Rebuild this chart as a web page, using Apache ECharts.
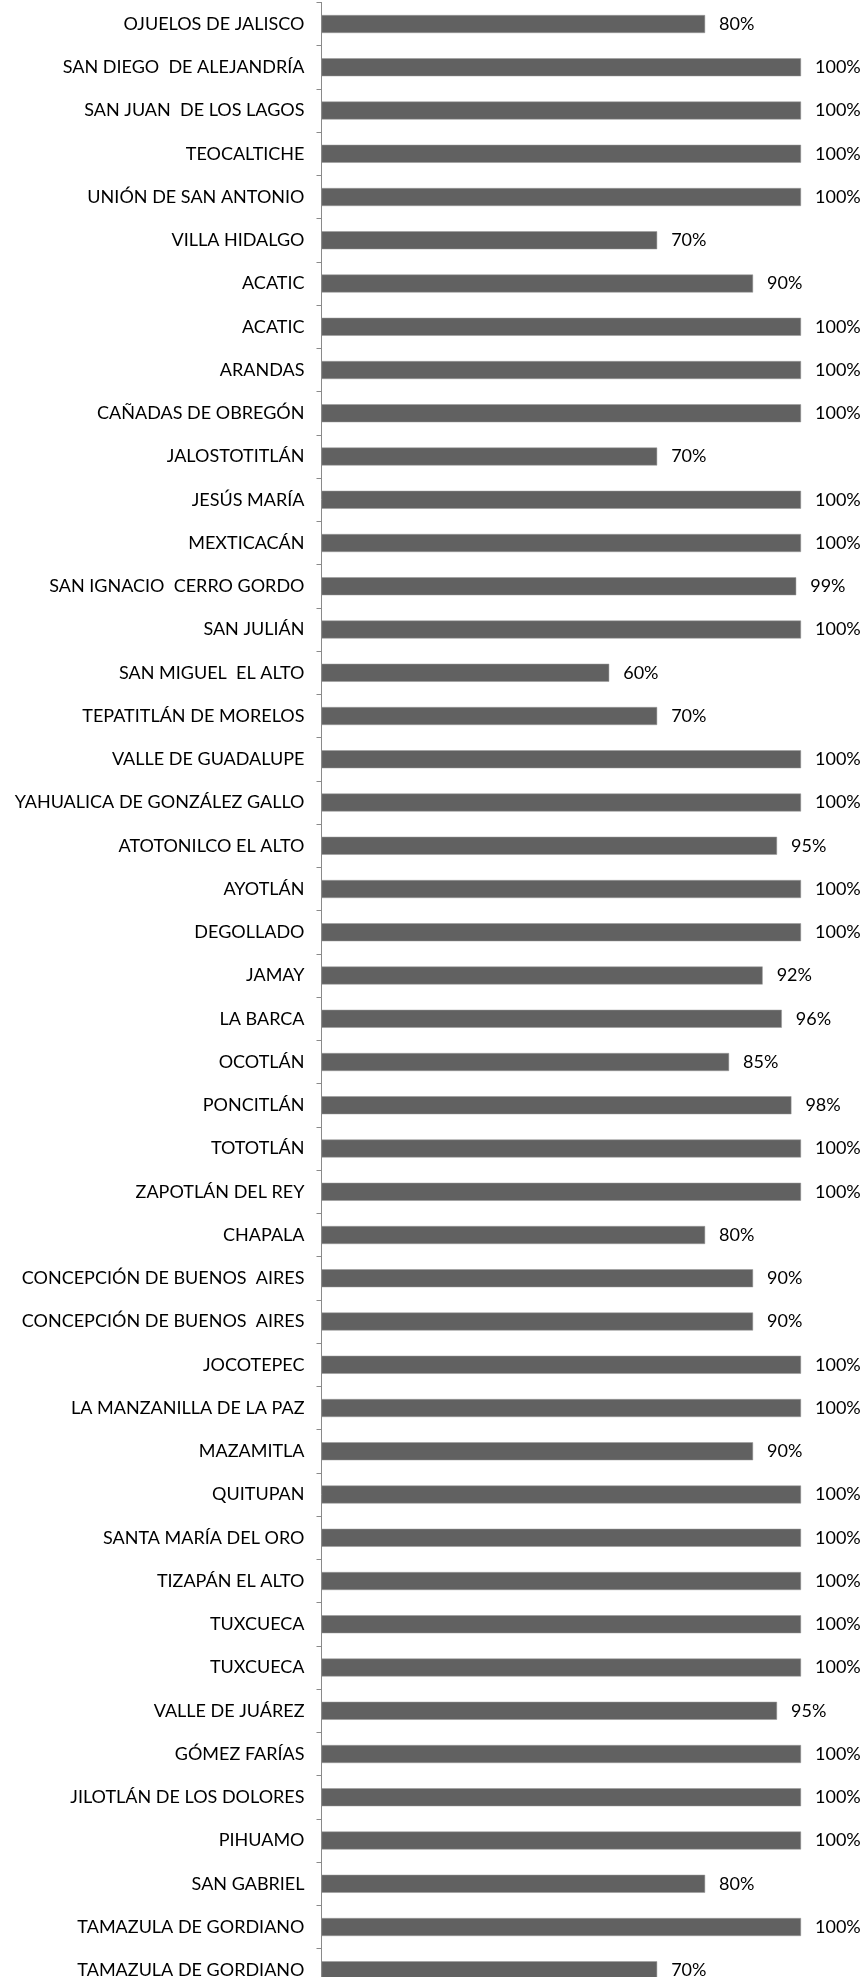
<!DOCTYPE html>
<html>
<head>
<meta charset="utf-8">
<script src="https://cdn.jsdelivr.net/npm/echarts@6/dist/echarts.min.js"></script>
<style>
html,body{margin:0;padding:0;background:#fff;overflow:hidden;width:867px;height:1977px;}
#chart{width:867px;height:1995px;}
</style>
</head>
<body>
<div id="chart"></div>
<script>
var categories = [
  "OJUELOS DE JALISCO","SAN DIEGO  DE ALEJANDRÍA","SAN JUAN  DE LOS LAGOS","TEOCALTICHE","UNIÓN DE SAN ANTONIO",
  "VILLA HIDALGO","ACATIC","ACATIC","ARANDAS","CAÑADAS DE OBREGÓN",
  "JALOSTOTITLÁN","JESÚS MARÍA","MEXTICACÁN","SAN IGNACIO  CERRO GORDO","SAN JULIÁN",
  "SAN MIGUEL  EL ALTO","TEPATITLÁN DE MORELOS","VALLE DE GUADALUPE","YAHUALICA DE GONZÁLEZ GALLO","ATOTONILCO EL ALTO",
  "AYOTLÁN","DEGOLLADO","JAMAY","LA BARCA","OCOTLÁN",
  "PONCITLÁN","TOTOTLÁN","ZAPOTLÁN DEL REY","CHAPALA","CONCEPCIÓN DE BUENOS  AIRES",
  "CONCEPCIÓN DE BUENOS  AIRES","JOCOTEPEC","LA MANZANILLA DE LA PAZ","MAZAMITLA","QUITUPAN",
  "SANTA MARÍA DEL ORO","TIZAPÁN EL ALTO","TUXCUECA","TUXCUECA","VALLE DE JUÁREZ",
  "GÓMEZ FARÍAS","JILOTLÁN DE LOS DOLORES","PIHUAMO","SAN GABRIEL","TAMAZULA DE GORDIANO",
  "TAMAZULA DE GORDIANO"
];
var values = [
  80,100,100,100,100,
  70,90,100,100,100,
  70,100,100,99,100,
  60,70,100,100,95,
  100,100,92,96,85,
  98,100,100,80,90,
  90,100,100,90,100,
  100,100,100,100,95,
  100,100,100,80,100,
  70
];

var chart = echarts.init(document.getElementById('chart'), null, {renderer:'canvas'});
chart.setOption({
  animation:false,
  backgroundColor:'#ffffff',
  grid:{left:321.5, right:66, top:2.4, height:1989.5, containLabel:false},
  xAxis:{
    type:'value', min:0, max:100,
    show:false
  },
  yAxis:{
    type:'category',
    inverse:true,
    data:categories,
    axisLine:{show:true, lineStyle:{color:'#8a8a8a', width:1}},
    axisTick:{show:true, inside:false, length:5, lineStyle:{color:'#8a8a8a'}},
    axisLabel:{margin:17, color:'#000000', fontFamily:'Lato', fontSize:18, interval:0},
    splitLine:{show:false}
  },
  series:[{
    type:'bar',
    data:values,
    barWidth:18,
    itemStyle:{color:'#616161', borderColor:'#9a9a9a', borderWidth:0.5},
    label:{
      show:true, position:'right', distance:14,
      color:'#000000', fontFamily:'Lato', fontSize:18,
      formatter:function(p){return p.value + '%';}
    }
  }]
});
</script>
</body>
</html>
